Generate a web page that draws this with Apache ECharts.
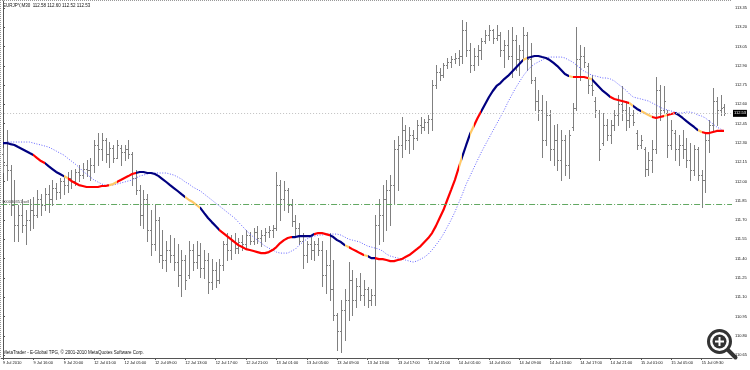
<!DOCTYPE html>
<html><head><meta charset="utf-8">
<script src="https://cdn.jsdelivr.net/npm/echarts@6/dist/echarts.min.js"></script>
<style>html,body{margin:0;padding:0;background:#fff}#c{width:750px;height:370px}</style>
</head><body><div id="c"></div>
<script>
const symbolTitle = 'EURJPY,M30  112.58 112.60 112.52 112.53';
const footerText = 'MetaTrader - E-Global TPG, \u00a9 2001-2010 MetaQuotes Software Corp.';
const levelLabel = '#00030351 sell';
const bidPrice = 112.53;
const levelPrice = 111.82;

const timeLabels = ['9 Jul 2010','9 Jul 16:00','9 Jul 20:00','12 Jul 01:00','12 Jul 05:00','12 Jul 09:00','12 Jul 13:00','12 Jul 17:00','12 Jul 21:00','13 Jul 01:00','13 Jul 05:00','13 Jul 09:00','13 Jul 13:00','13 Jul 17:00','13 Jul 21:00','14 Jul 01:00','14 Jul 05:00','14 Jul 09:00','14 Jul 13:00','14 Jul 17:00','14 Jul 21:00','15 Jul 01:00','15 Jul 05:00','15 Jul 09:30'];
const priceLabels = [110.65,110.80,110.95,111.10,111.25,111.40,111.55,111.70,111.85,112.00,112.15,112.30,112.45,112.60,112.75,112.90,113.05,113.20,113.35];

const openP = [112.21,112.13,112.09,111.82,111.66,111.74,111.66,111.70,111.78,111.74,
111.86,111.82,111.90,111.86,111.95,111.92,112.00,111.97,112.03,112.00,
112.07,112.05,112.10,112.09,112.13,112.28,112.25,112.32,112.21,112.26,
112.18,112.26,112.23,112.25,112.21,112.03,111.93,111.74,111.86,111.62,
111.51,111.70,111.43,111.39,111.47,111.43,111.37,111.27,111.39,111.27,
111.47,111.37,111.43,111.33,111.39,111.22,111.31,111.23,111.35,111.51,
111.47,111.54,111.48,111.53,111.51,111.58,111.54,111.61,111.56,111.58,
111.61,111.62,111.64,111.97,111.86,111.93,111.82,111.69,111.64,111.54,
111.43,111.51,111.47,111.51,111.47,111.27,111.35,111.16,110.96,110.84,
111.00,111.08,111.23,111.08,111.19,111.12,111.16,111.08,111.12,111.66,
111.74,111.86,111.93,111.97,112.25,112.28,112.40,112.32,112.36,112.34,
112.44,112.42,112.46,112.49,112.75,112.85,112.83,112.91,112.93,112.95,
112.96,112.98,113.18,113.02,112.91,112.98,113.02,113.09,113.14,113.18,
113.12,113.14,113.02,113.06,112.98,113.10,112.95,113.02,113.14,112.95,
112.79,112.63,112.56,112.32,112.52,112.25,112.32,112.17,112.32,112.13,
112.42,112.57,112.95,112.98,112.90,112.75,112.63,112.53,112.30,112.44,
112.36,112.44,112.52,112.60,112.56,112.48,112.52,112.38,112.28,112.25,
112.10,112.17,112.25,112.71,112.56,112.53,112.28,112.38,112.25,112.28,
112.25,112.17,112.09,112.25,112.05,112.01,112.32,112.44,112.63,112.56,
112.58];
const highP = [112.26,112.40,112.13,112.01,111.82,111.86,111.78,111.86,111.88,111.93,
111.90,111.95,111.97,112.01,111.99,112.03,112.04,112.07,112.09,112.10,
112.13,112.14,112.17,112.18,112.32,112.38,112.38,112.34,112.31,112.28,
112.32,112.28,112.28,112.32,112.23,112.09,111.97,111.93,111.90,111.78,
111.82,111.72,111.62,111.54,111.58,111.56,111.51,111.47,111.43,111.54,
111.51,111.54,111.52,111.47,111.44,111.40,111.37,111.40,111.54,111.60,
111.58,111.60,111.56,111.58,111.62,111.61,111.64,111.65,111.62,111.64,
111.65,111.66,112.07,112.01,112.00,111.95,111.86,111.74,111.68,111.60,
111.54,111.57,111.54,111.56,111.54,111.47,111.60,111.39,110.98,111.08,
111.16,111.37,111.31,111.25,111.29,111.23,111.18,111.16,111.74,111.86,
111.97,112.01,112.05,112.32,112.35,112.50,112.44,112.42,112.40,112.48,
112.50,112.49,112.52,112.79,112.91,112.88,112.92,112.96,112.98,113.00,
113.02,113.26,113.24,113.08,113.04,113.06,113.12,113.18,113.22,113.19,
113.22,113.16,113.10,113.18,113.20,113.14,113.06,113.20,113.16,113.08,
112.81,112.71,112.67,112.63,112.56,112.44,112.45,112.40,112.36,112.40,
112.61,113.20,113.06,113.05,112.92,112.83,112.66,112.56,112.53,112.49,
112.48,112.56,112.67,112.74,112.63,112.58,112.56,112.40,112.36,112.27,
112.23,112.32,112.81,112.75,112.74,112.56,112.48,112.40,112.36,112.40,
112.34,112.30,112.28,112.27,112.09,112.38,112.48,112.73,112.66,112.67,
112.60];
const lowP = [112.07,112.01,111.74,111.54,111.54,111.61,111.51,111.62,111.64,111.72,
111.74,111.78,111.76,111.82,111.86,111.87,111.90,111.92,111.95,111.97,
112.00,112.03,112.04,112.01,112.07,112.13,112.17,112.15,112.11,112.15,
112.18,112.13,112.17,112.18,111.97,111.90,111.66,111.64,111.54,111.43,
111.47,111.37,111.33,111.30,111.37,111.31,111.19,111.11,111.16,111.25,
111.31,111.33,111.26,111.25,111.13,111.16,111.18,111.21,111.31,111.39,
111.40,111.44,111.44,111.47,111.49,111.51,111.51,111.52,111.50,111.54,
111.57,111.57,111.62,111.70,111.78,111.76,111.65,111.58,111.51,111.33,
111.37,111.40,111.39,111.43,111.19,111.13,111.08,110.92,110.69,110.67,
110.77,110.92,110.96,111.02,111.08,111.04,111.02,111.04,111.04,111.51,
111.54,111.62,111.66,111.83,111.93,112.19,112.25,112.22,112.25,112.32,
112.38,112.40,112.38,112.40,112.73,112.79,112.81,112.88,112.89,112.92,
112.91,112.92,112.98,112.85,112.87,112.91,112.95,113.08,113.10,113.08,
113.10,112.98,112.89,112.95,112.81,112.87,112.83,112.95,112.87,112.77,
112.56,112.48,112.19,112.28,112.17,112.13,112.09,112.01,112.05,112.03,
112.40,112.56,112.79,112.89,112.69,112.67,112.50,112.17,112.28,112.32,
112.30,112.40,112.44,112.48,112.40,112.42,112.44,112.25,112.26,112.04,
112.05,112.07,112.22,112.48,112.53,112.19,112.25,112.17,112.13,112.18,
112.11,112.01,112.05,112.01,111.80,111.92,112.23,112.40,112.44,112.52,
112.52];
const closeP = [112.13,112.09,111.82,111.66,111.74,111.66,111.70,111.78,111.74,111.86,
111.82,111.90,111.86,111.95,111.92,112.00,111.97,112.03,112.00,112.07,
112.05,112.10,112.09,112.13,112.28,112.25,112.32,112.21,112.26,112.18,
112.28,112.23,112.25,112.21,112.03,111.93,111.74,111.86,111.62,111.51,
111.70,111.43,111.39,111.47,111.43,111.37,111.27,111.39,111.23,111.47,
111.37,111.43,111.33,111.39,111.22,111.31,111.23,111.35,111.51,111.47,
111.54,111.48,111.53,111.51,111.58,111.54,111.61,111.56,111.58,111.61,
111.62,111.64,111.97,111.86,111.93,111.82,111.69,111.64,111.54,111.43,
111.51,111.47,111.51,111.47,111.27,111.35,111.16,110.96,110.84,111.00,
111.08,111.23,111.08,111.19,111.12,111.16,111.08,111.12,111.66,111.74,
111.86,111.93,111.97,112.25,112.28,112.40,112.32,112.36,112.34,112.44,
112.42,112.46,112.49,112.75,112.85,112.83,112.91,112.93,112.95,112.96,
112.98,113.18,113.02,112.91,112.98,113.02,113.09,113.14,113.18,113.12,
113.14,113.02,113.06,112.98,113.10,112.95,113.02,113.14,112.95,112.79,
112.63,112.56,112.32,112.52,112.25,112.32,112.17,112.32,112.13,112.36,
112.57,112.95,112.98,112.93,112.75,112.71,112.56,112.25,112.44,112.36,
112.44,112.52,112.60,112.56,112.48,112.52,112.46,112.28,112.32,112.10,
112.17,112.25,112.71,112.56,112.63,112.28,112.40,112.25,112.28,112.25,
112.17,112.09,112.25,112.05,112.01,112.32,112.44,112.63,112.56,112.57,
112.53];

const fastMA = [112.299,112.299,112.291,112.284,112.268,112.253,112.237,112.221,112.206,112.182,
112.159,112.144,112.120,112.097,112.074,112.058,112.042,112.027,112.004,111.988,
111.972,111.965,111.957,111.957,111.957,111.957,111.965,111.965,111.972,111.980,
111.996,112.011,112.027,112.042,112.058,112.066,112.074,112.074,112.066,112.066,
112.058,112.042,112.019,111.996,111.972,111.949,111.926,111.902,111.879,111.856,
111.840,111.817,111.793,111.754,111.716,111.684,111.653,111.622,111.599,111.575,
111.552,111.529,111.505,111.490,111.474,111.467,111.459,111.451,111.443,111.443,
111.451,111.467,111.490,111.521,111.544,111.560,111.568,111.568,111.575,111.575,
111.575,111.575,111.591,111.599,111.599,111.591,111.583,111.568,111.544,111.529,
111.505,111.490,111.474,111.459,111.443,111.428,111.420,111.404,111.404,111.396,
111.396,111.389,111.381,111.381,111.389,111.396,111.412,111.428,111.451,111.474,
111.498,111.529,111.560,111.599,111.653,111.716,111.778,111.856,111.933,112.011,
112.105,112.198,112.284,112.369,112.432,112.494,112.548,112.603,112.657,112.704,
112.743,112.766,112.797,112.821,112.852,112.883,112.914,112.945,112.961,112.968,
112.976,112.976,112.968,112.961,112.945,112.922,112.898,112.867,112.836,112.821,
112.813,112.813,112.813,112.813,112.805,112.797,112.766,112.735,112.704,112.681,
112.657,112.642,112.634,112.626,112.618,112.610,112.587,112.564,112.548,112.533,
112.517,112.502,112.494,112.502,112.509,112.517,112.525,112.533,112.517,112.494,
112.470,112.447,112.424,112.400,112.385,112.377,112.377,112.385,112.393,112.393,
112.393];
const fastMAColorRuns = [['N',9],['R',3],['N',5],['Y',1],['R',11],['Y',2],['R',5],['N',13],['Y',4],['N',5],
['R',19],['N',6],['R',4],['N',4],['Y',1],['R',4],['Y',1],['N',2],['R',22],['Y',1],
['N',2],['Y',1],['R',2],['N',11],['Y',1],['N',11],['Y',1],['R',4],['Y',1],['N',5],
['R',5],['Y',1],['N',2],['Y',3],['R',3],['Y',1],['R',2],['N',6],['Y',1],['R',6]];
const slowMA = [112.299,112.307,112.307,112.307,112.307,112.307,112.307,112.307,112.299,112.291,
112.284,112.276,112.268,112.253,112.237,112.221,112.206,112.182,112.159,112.136,
112.112,112.081,112.058,112.035,112.011,111.996,111.980,111.972,111.972,111.972,
111.980,111.988,111.996,112.004,112.011,112.027,112.042,112.050,112.058,112.066,
112.066,112.066,112.066,112.066,112.058,112.050,112.035,112.019,111.996,111.980,
111.957,111.941,111.926,111.902,111.879,111.856,111.832,111.809,111.786,111.762,
111.739,111.716,111.684,111.653,111.622,111.591,111.568,111.544,111.521,111.498,
111.482,111.467,111.451,111.443,111.443,111.443,111.459,111.474,111.505,111.529,
111.552,111.568,111.575,111.583,111.583,111.591,111.591,111.591,111.591,111.583,
111.568,111.552,111.544,111.537,111.529,111.513,111.498,111.490,111.482,111.474,
111.459,111.435,111.420,111.412,111.404,111.396,111.389,111.381,111.373,111.381,
111.396,111.412,111.435,111.467,111.505,111.544,111.591,111.646,111.700,111.762,
111.832,111.902,111.980,112.042,112.105,112.167,112.229,112.284,112.338,112.393,
112.447,112.502,112.556,112.618,112.673,112.727,112.774,112.821,112.859,112.891,
112.914,112.930,112.945,112.961,112.968,112.968,112.968,112.968,112.961,112.945,
112.930,112.906,112.883,112.859,112.844,112.828,112.821,112.813,112.805,112.805,
112.797,112.782,112.758,112.735,112.712,112.681,112.657,112.649,112.642,112.634,
112.626,112.610,112.595,112.579,112.564,112.556,112.548,112.540,112.533,112.533,
112.540,112.540,112.533,112.517,112.509,112.494,112.470,112.447,112.424,112.408,
112.393];

const runColors = {N:'#000080', R:'#ff0000', Y:'#ffc866'};
const pieces = [];
let start = 0;
fastMAColorRuns.forEach(function(r, k){
  const end = start + r[1] - 1;
  if (k === 0) pieces.push({lte: end, color: runColors[r[0]]});
  else pieces.push({gt: start - 1, lte: end, color: runColors[r[0]]});
  start = end + 1;
});

const barData = openP.map(function(o, i){ return [i, o, highP[i], lowP[i], closeP[i]]; });
const labelIdx = timeLabels.map(function(t, k){ return k * 8; });

function renderBar(params, api){
  const x = api.value(0);
  const pO = api.coord([x, api.value(1)]);
  const pH = api.coord([x, api.value(2)]);
  const pL = api.coord([x, api.value(3)]);
  const pC = api.coord([x, api.value(4)]);
  const n = Math.round(pH[0]);
  const cx = n + 0.5;
  const st = {stroke:'#808080', lineWidth:1};
  const yo = Math.round(pO[1]) + 0.5, yc = Math.round(pC[1]) + 0.5;
  return {type:'group', children:[
    {type:'line', shape:{x1:cx, y1:Math.round(pH[1]), x2:cx, y2:Math.round(pL[1]) + 1}, style:st},
    {type:'line', shape:{x1:n - 1, y1:yo, x2:n, y2:yo}, style:st},
    {type:'line', shape:{x1:n + 1, y1:yc, x2:n + 2, y2:yc}, style:st}
  ]};
}

const chart = echarts.init(document.getElementById('c'), null, {renderer:'canvas'});
const font = 'Liberation Sans';
chart.setOption({
  animation:false,
  backgroundColor:'#ffffff',
  grid:{left:1, right:18, top:1, bottom:12},
  xAxis:{type:'value', min:-0.5, max:192, position:'bottom',
    axisLine:{show:true, lineStyle:{color:'#555', width:1}},
    axisTick:{show:true, length:2, customValues:labelIdx, lineStyle:{color:'#555'}},
    axisLabel:{show:true, customValues:labelIdx, margin:3, align:'left', fontSize:4, fontFamily:font, color:'#111',
      formatter:function(v){ return timeLabels[Math.round(v/8)] || ''; }},
    splitLine:{show:false}},
  yAxis:{type:'value', position:'right', min:110.627, max:113.404, scale:true,
    axisLine:{show:true, lineStyle:{color:'#555', width:1}},
    axisTick:{show:true, length:2, customValues:priceLabels, lineStyle:{color:'#555'}},
    axisLabel:{show:true, customValues:priceLabels, margin:3, fontSize:4, fontFamily:font, color:'#111',
      formatter:function(v){ return v.toFixed(2); }},
    splitLine:{show:false}},
  visualMap:{type:'piecewise', show:false, dimension:0, seriesIndex:1, pieces:pieces},
  series:[
    {type:'custom', renderItem:renderBar, data:barData, z:2, silent:true,
      encode:{x:0, y:[1,2,3,4]}},
    {type:'line', data:fastMA.map(function(v,i){return [i,v];}), showSymbol:false, symbol:'none', z:4,
      lineStyle:{width:2.2}, silent:true},
    {type:'line', data:slowMA.map(function(v,i){return [i,v];}), showSymbol:false, symbol:'none', z:3,
      lineStyle:{width:1, type:[1,1.6], color:'#6464ff'}, silent:true,
      markLine:{symbol:'none', silent:true, animation:false, data:[
        {yAxis:bidPrice, lineStyle:{color:'#c0c0c0', type:[1,2], width:1},
          label:{show:true, position:'end', distance:1, formatter:bidPrice.toFixed(2), backgroundColor:'#000', color:'#fff',
            fontSize:4, fontFamily:font, padding:[2,1,1,1]}},
        {yAxis:levelPrice, lineStyle:{color:'#62a862', type:[6,2,1,2], width:1},
          label:{show:true, position:'insideStartTop', distance:1, formatter:levelLabel, color:'#444', fontSize:4, fontFamily:font}}
      ]}}
  ],
  graphic:[
    {type:'line', shape:{x1:0.5, y1:0, x2:0.5, y2:358}, style:{stroke:'#999', lineDash:[1,1], lineWidth:1}, silent:true},
    {type:'line', shape:{x1:0, y1:0.5, x2:732, y2:0.5}, style:{stroke:'#999', lineDash:[1,1], lineWidth:1}, silent:true},
    {type:'text', left:3, top:3, style:{text:symbolTitle, fontSize:4.5, fontFamily:font, fill:'#111'}, silent:true},
    {type:'text', left:3, top:350, style:{text:footerText, fontSize:4.5, fontFamily:font, fill:'#111'}, silent:true},
    {type:'group', left:707, top:329, silent:true, children:[
      {type:'line', shape:{x1:20, y1:20, x2:29, y2:29}, style:{stroke:'#333', lineWidth:4, lineCap:'round'}},
      {type:'circle', shape:{cx:13, cy:13, r:11}, style:{fill:'#fff', stroke:'#333', lineWidth:3}},
      {type:'circle', shape:{cx:13, cy:13, r:7}, style:{fill:'#333'}},
      {type:'rect', shape:{x:12, y:8.5, width:2, height:9}, style:{fill:'#fff'}},
      {type:'rect', shape:{x:8.5, y:12, width:9, height:2}, style:{fill:'#fff'}}
    ]}
  ]
});
</script></body></html>
